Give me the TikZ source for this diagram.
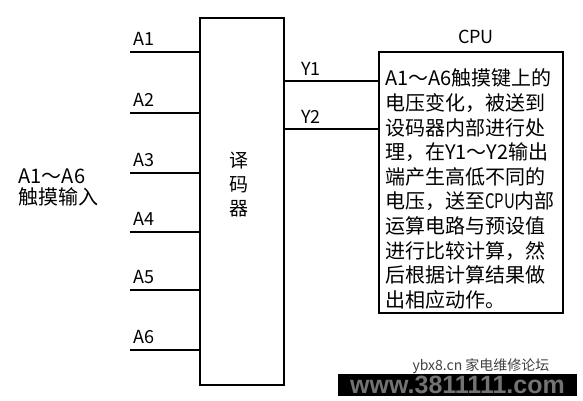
\documentclass[tikz,border=0pt]{standalone}
\usepackage{graphicx}
\usepackage{fontspec}
\setmainfont{Noto Sans CJK SC}
\newfontfamily\wmfont{Liberation Sans}
\newcommand\nr[1]{\scalebox{0.75}[1]{#1}}
\usetikzlibrary{positioning}

\begin{document}
\begin{tikzpicture}[x=1bp, y=-1bp, line width=1.3bp,
    base/.style = {rectangle, draw=black, inner sep=0pt},
    decoder/.style = {base, minimum width=84bp, minimum height=367bp},
    cpubox/.style = {base, minimum width=184bp, minimum height=261bp},
    pin/.style = {font=\fontsize{18bp}{18bp}\selectfont, inner sep=0pt},
    body/.style = {font=\fontsize{20bp}{24.6bp}\selectfont, inner sep=0pt, align=left}
]
  \useasboundingbox (0,0) rectangle (583,400);

  \node (dec)      [decoder] at (242,201.5) {};
  \node (dectext)  [body, font=\fontsize{19bp}{24bp}\selectfont, align=center, xshift=-3bp, yshift=17bp] at (dec) {译\\码\\器};

  \node (cpu)      [cpubox] at (471,182.5) {};
  \node (cputext)  [body, anchor=north west, xshift=6bp, yshift=-17bp] at (cpu.north west)
    {A1～A6触摸键上的\\电压变化，被送到\\设码器内部进行处\\理，在Y1～Y2输出\\端产生高低不同的\\电压，送至\nr{CPU}内部\\运算电路与预设值\\进行比较计算，然\\后根据计算结果做\\出相应动作。};
  \node (cpulabel) [pin, above=7bp of cpu.north, xshift=5bp] {CPU};

  \node (touch)    [body, font=\fontsize{20bp}{21bp}\selectfont, anchor=west] at (18,187.5) {A1～A6\\触摸输入};

  \coordinate (a1) at (130,52);
  \coordinate (a2) at (130,113);
  \coordinate (a3) at (130,173);
  \coordinate (a4) at (130,232);
  \coordinate (a5) at (130,290);
  \coordinate (a6) at (130,350);

  \draw (a1) -- (a1 -| dec.west);
  \draw (a2) -- (a2 -| dec.west);
  \draw (a3) -- (a3 -| dec.west);
  \draw (a4) -- (a4 -| dec.west);
  \draw (a5) -- (a5 -| dec.west);
  \draw (a6) -- (a6 -| dec.west);

  \node (la1) [pin, above right=6bp and 3bp of a1] {A1};
  \node (la2) [pin, above right=6bp and 3bp of a2] {A2};
  \node (la3) [pin, above right=6bp and 3bp of a3] {A3};
  \node (la4) [pin, above right=6bp and 3bp of a4] {A4};
  \node (la5) [pin, above right=6bp and 3bp of a5] {A5};
  \node (la6) [pin, above right=6bp and 3bp of a6] {A6};

  \coordinate (y1) at (cpu.west |- 0,81);
  \coordinate (y2) at (cpu.west |- 0,129);
  \draw (dec.east |- y1) -- node (ly1) [pin, pos=.28, above=5bp] {Y1} (y1);
  \draw (dec.east |- y2) -- node (ly2) [pin, pos=.28, above=5bp] {Y2} (y2);

  \node (wmsmall) [font=\fontsize{14bp}{14bp}\selectfont, text=black!75, inner sep=0pt] at (481,366) {ybx8.cn 家电维修论坛};
  \node (wmbar)   [fill=black, minimum width=239bp, minimum height=22bp, inner sep=0pt] at (457.5,385) {};
  \node (wmtext)  [font=\wmfont\bfseries\fontsize{25bp}{25bp}\selectfont, text=black!55, inner sep=0pt] at (wmbar) {www.3811111.com};

\end{tikzpicture}
\end{document}
